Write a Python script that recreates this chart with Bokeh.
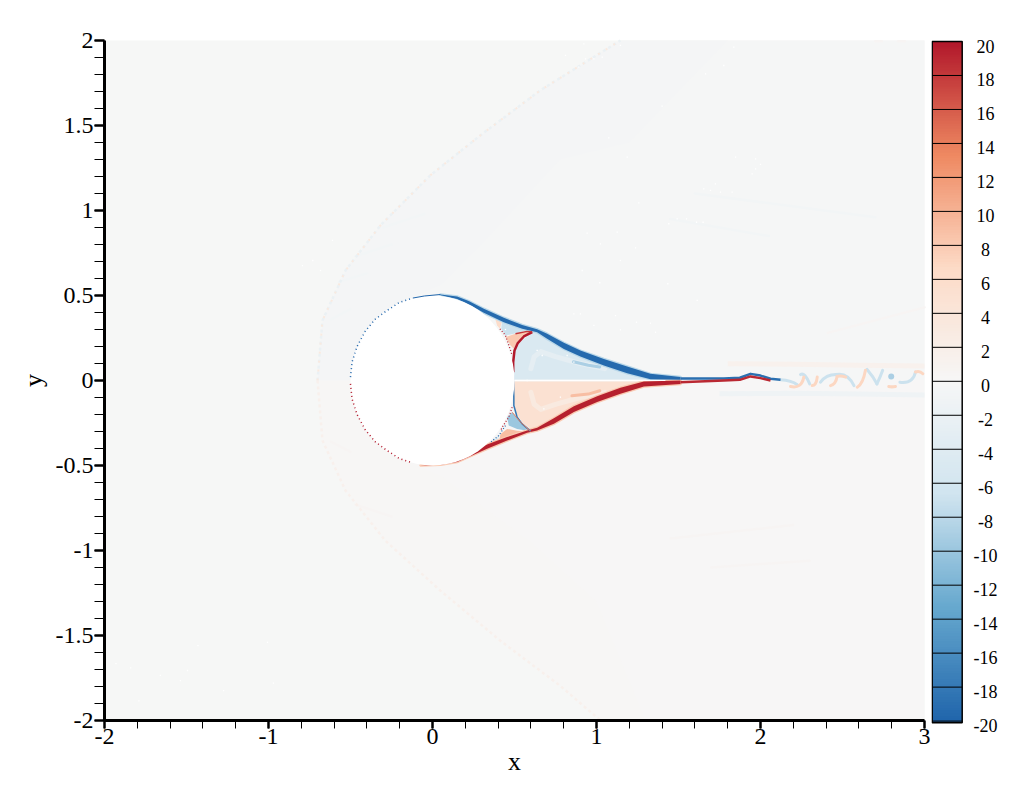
import numpy as np
from bokeh.core.properties import value
from bokeh.embed import file_html
from bokeh.layouts import row
from bokeh.models import LinearColorMapper, SingleIntervalTicker
from bokeh.plotting import figure
from bokeh.resources import INLINE

# ---------- tick labels ----------
x_ticks = [-2, -1, 0, 1, 2, 3]
x_labels = ["-2", "-1", "0", "1", "2", "3"]
y_ticks = [-2, -1.5, -1, -0.5, 0, 0.5, 1, 1.5, 2]
y_labels = ["-2", "-1.5", "-1", "-0.5", "0", "0.5", "1", "1.5", "2"]
level_ticks = list(range(-20, 21, 2))
level_labels = [str(v) for v in level_ticks]

# ---------- colour scale ----------
palette_levels = [-20, -13.33, -6.67, 0, 6.67, 13.33, 20]
palette_colors = ["#2166ac", "#67a9cf", "#d1e5f0", "#f7f7f7", "#fddbc7", "#ef8a62", "#b2182b"]

# ---------- shock ----------
shock_top_x = [-0.701, -0.671, -0.530, -0.317, -0.012, 0.293, 0.659, 1.146]
shock_top_y = [0, 0.353, 0.648, 0.913, 1.208, 1.443, 1.708, 2.0]
shock_bot_x = [-0.701, -0.671, -0.530, -0.287, 0.049, 0.415, 0.780, 1.024]
shock_bot_y = [0, -0.353, -0.648, -0.943, -1.237, -1.532, -1.797, -2.0]
band_top_x = [1.8, 1.2, 0.78, 0.3, 0.05, -0.2, -0.42, -0.5]
band_top_y = [2.0, 1.4, 1.3, 0.8, 0.56, 0.46, 0.3, 0.0]
band_bot_x = [1.3, 1.0, 0.6, 0.05, -0.2, -0.42, -0.5]
band_bot_y = [-2.0, -1.3, -0.95, -0.56, -0.46, -0.3, 0.0]
streaks_top = [
    ([-0.62, -0.50], [0.36, 0.42]), ([-0.57, -0.40], [0.58, 0.63]),
    ([-0.47, -0.25], [0.73, 0.80]), ([-0.30, -0.05], [0.90, 0.98]),
    ([1.60, 2.70], [1.10, 0.96]), ([1.45, 2.05], [0.95, 0.85]),
]
streaks_bot = [
    ([1.70, 2.30], [-1.10, -1.06]), ([1.45, 2.20], [-0.93, -0.85]),
    ([2.41, 3.0], [0.28, 0.43]), ([2.70, 2.74], [1.995, 1.995]), ([2.84, 2.88], [1.995, 1.995]),
    ([-0.62, -0.50], [-0.36, -0.42]), ([-0.47, -0.25], [-0.73, -0.80]),
]

# ---------- recirculation regions ----------
main_top_x = [0.496, 0.492, 0.500, 0.547, 0.608, 0.638, 0.740, 0.862, 1.004, 1.126, 1.268, 1.390, 1.390]
main_top_y = [0.006, 0.098, 0.187, 0.236, 0.285, 0.295, 0.245, 0.181, 0.122, 0.082, 0.039, 0.016, 0.006]
main_bot_x = [0.496, 0.492, 0.506, 0.547, 0.608, 0.638, 0.740, 0.862, 1.004, 1.126, 1.268, 1.390, 1.390]
main_bot_y = [-0.006, -0.098, -0.187, -0.245, -0.295, -0.295, -0.245, -0.177, -0.118, -0.069, -0.029, -0.010, -0.006]
pocket_a_x = [0.425, 0.486, 0.598, 0.557, 0.496, 0.445, 0.419]
pocket_a_y = [0.353, 0.334, 0.295, 0.291, 0.275, 0.265, 0.304]
pocket_b_x = [0.445, 0.506, 0.577, 0.608, 0.557, 0.516, 0.496, 0.476]
pocket_b_y = [0.255, 0.275, 0.289, 0.285, 0.259, 0.226, 0.187, 0.206]
pocket_c_x = [0.384, 0.425, 0.411, 0.394]
pocket_c_y = [0.357, 0.353, 0.304, 0.324]
pocket_d_x = [0.455, 0.486, 0.537, 0.598, 0.516, 0.465]
pocket_d_y = [-0.216, -0.187, -0.245, -0.298, -0.285, -0.265]
pocket_e_x = [0.415, 0.455, 0.516, 0.577, 0.476, 0.404]
pocket_e_y = [-0.314, -0.285, -0.295, -0.300, -0.334, -0.363]
pocket_f_x = [0.374, 0.404, 0.404, 0.354]
pocket_f_y = [-0.344, -0.324, -0.363, -0.363]

# ---------- shear layers as outlines ----------
shear_top_x = [0.049, 0.150, 0.221, 0.313, 0.435, 0.547, 0.638, 0.699, 0.801, 0.902, 1.045, 1.187, 1.329, 1.512,
               1.512, 1.329, 1.187, 1.045, 0.902, 0.801, 0.699, 0.638, 0.547, 0.435, 0.313, 0.221, 0.150, 0.049]
shear_top_y = [0.506, 0.494, 0.467, 0.422, 0.369, 0.327, 0.302, 0.275, 0.222, 0.176, 0.127, 0.082, 0.039, 0.020,
               0.004, 0.008, 0.043, 0.088, 0.141, 0.186, 0.245, 0.284, 0.304, 0.343, 0.398, 0.447, 0.480, 0.502]
shear_bot_x = [-0.073, 0.049, 0.150, 0.231, 0.333, 0.455, 0.577, 0.638, 0.740, 0.862, 1.004, 1.146, 1.289, 1.512,
               1.512, 1.289, 1.146, 1.004, 0.862, 0.740, 0.638, 0.577, 0.455, 0.333, 0.231, 0.150, 0.049]
shear_bot_y = [-0.500, -0.496, -0.480, -0.445, -0.402, -0.353, -0.308, -0.294, -0.255, -0.186, -0.127, -0.078, -0.035, -0.020,
               0.0, -0.006, -0.043, -0.092, -0.151, -0.222, -0.278, -0.294, -0.333, -0.376, -0.422, -0.461, -0.490]

# ---------- separation lines ----------
red_edge_x = [0.608, 0.557, 0.520, 0.500, 0.492, 0.492]
red_edge_y = [0.285, 0.259, 0.220, 0.177, 0.108, 0.049]
red_cap_x = [0.506, 0.577, 0.608]
red_cap_y = [0.275, 0.289, 0.285]
blue_edge_x = [0.492, 0.496, 0.496, 0.516, 0.547, 0.598]
blue_edge_y = [0.049, -0.098, -0.147, -0.216, -0.255, -0.298]
red_lip_x = [0.486, 0.537, 0.598]
red_lip_y = [-0.187, -0.245, -0.298]

# ---------- inner bands ----------
swirl_top_x = [0.60, 0.62, 0.66, 0.75, 0.90, 1.05]
swirl_top_y = [0.07, 0.14, 0.17, 0.14, 0.10, 0.07]
swirl_bot_x = [0.60, 0.62, 0.66, 0.75, 0.90, 1.05]
swirl_bot_y = [-0.07, -0.14, -0.17, -0.14, -0.10, -0.07]
dark_top_x = [0.86, 0.95, 1.02]
dark_top_y = [0.11, 0.09, 0.08]
dark_bot_x = [0.85, 0.95, 1.02]
dark_bot_y = [-0.09, -0.08, -0.06]
divide_x = [0.50, 1.42]
divide_y = [0.0, 0.0]

# ---------- wake ----------
wake_core_blue_x = [1.512, 1.776, 1.874, 1.939, 2.0, 2.061, 2.122]
wake_core_blue_y = [0.012, 0.012, 0.016, 0.039, 0.029, 0.010, 0.004]
wake_core_red_x = [1.512, 1.776, 1.874, 1.939, 2.0, 2.061]
wake_core_red_y = [-0.010, 0.0, 0.004, 0.024, 0.014, 0.0]
wake_hi_x = [1.80, 2.2, 2.6, 3.0]
wake_hi_y = [0.098, 0.095, 0.09, 0.085]
wake_lo_x = [1.75, 2.2, 2.6, 3.0]
wake_lo_y = [-0.078, -0.075, -0.08, -0.085]
# wiggles: start, end and control points
blue_x0 = [2.122, 2.244, 2.366, 2.46, 2.65, 2.71, 2.85]
blue_y0 = [0.004, 0.035, -0.01, 0.035, 0.065, -0.02, -0.01]
blue_x1 = [2.224, 2.30, 2.46, 2.57, 2.71, 2.745, 2.945]
blue_y1 = [-0.025, -0.02, 0.035, -0.03, -0.02, 0.06, 0.05]
blue_cx = [2.19, 2.27, 2.40, 2.53, 2.69, 2.73, 2.93]
blue_cy = [0.0, 0.05, 0.035, 0.05, 0.02, 0.02, -0.02]
red_x0 = [2.183, 2.315, 2.427, 2.467, 2.59, 2.782, 2.945]
red_y0 = [-0.035, -0.03, -0.03, 0.024, -0.04, -0.035, 0.05]
red_x1 = [2.264, 2.346, 2.467, 2.52, 2.64, 2.823, 2.99]
red_y1 = [0.02, 0.02, 0.024, 0.02, 0.06, -0.035, 0.04]
red_cx = [2.25, 2.34, 2.46, 2.49, 2.625, 2.80, 2.97]
red_cy = [-0.05, -0.03, -0.02, 0.03, -0.02, -0.04, 0.06]
blob_x = [2.797]
blob_y = [0.024]

# ---------- dots on the cylinder surface ----------
dots_blue_x = [-0.50, -0.49, -0.46, -0.41, -0.35, -0.28, -0.20, -0.12]
dots_blue_y = [0.02, 0.11, 0.20, 0.29, 0.36, 0.41, 0.46, 0.485]
solid_blue_x = [-0.12, -0.05, 0.049]
solid_blue_y = [0.485, 0.497, 0.506]
dots_red_x = [-0.50, -0.49, -0.46, -0.41, -0.35, -0.28, -0.20, -0.12]
dots_red_y = [-0.02, -0.11, -0.20, -0.29, -0.36, -0.41, -0.46, -0.485]
dots_edge_red_x = [0.411, 0.445, 0.476, 0.486]
dots_edge_red_y = [0.304, 0.265, 0.177, 0.147]
dots_edge_red2_x = [0.486, 0.465, 0.425, 0.415]
dots_edge_red2_y = [-0.157, -0.216, -0.275, -0.295]
dots_edge_blue2_x = [0.445, 0.404, 0.354]
dots_edge_blue2_y = [-0.265, -0.324, -0.363]

# ---------- white specks ----------
speck_x = [1.492, 1.549, 1.610, 1.650, 1.441, 1.654, 1.695, 1.756, 1.827, 1.725, 1.970, 2.0, 1.970, 1.949, 1.848,
           0.811, 0.933, 0.984, 1.035, 0.923, 0.892, 1.146, 1.837, 1.776, 1.665, 1.400, 1.075, 1.187, 1.258, 0.943,
           1.126, 1.024, 1.238, 1.146, 0.913, 1.020, 1.435, 1.614, 0.862, 0.902, 0.984, 1.116, 1.244, 1.329, 1.146, 1.360,
           -1.79, -1.659, -1.494, -1.274, -0.97, -1.84, -1.93, -1.43, -1.006, -1.537,
           -0.73, -0.61, -0.683, -0.793, 0.638, 0.669, 0.821, 0.862, 0.577, 0.78, 0.679, 0.445]
speck_y = [0.951, 0.951, 0.931, 0.931, 0.922, 1.127, 1.118, 1.108, 1.108, 1.157, 1.304, 1.271, 1.245, 1.216, 1.314,
           1.912, 1.892, 1.892, 1.902, 1.98, 1.843, 1.971, 1.961, 1.853, 1.804, 1.614, 1.427, 1.314, 1.045, 0.867,
           0.873, 0.804, 0.780, 0.706, 0.647, 0.575, 0.569, 0.471, 0.392, 0.392, 0.324, 0.382, 0.343, 0.337, 0.298, 0.284,
           -1.885, -1.735, -1.706, -1.824, -1.78, -1.69, -1.665, -1.559, -1.54, -1.765,
           0.706, 0.824, 0.647, 0.676, 0.177, 0.147, 0.147, 0.108, 0.0, -0.098, -0.167, 0.30]

# ---------- colours ----------
grid_levels = np.linspace(-20, 20, 256)
def channel(i):
    return np.interp(grid_levels, palette_levels, [int(c[i:i + 2], 16) for c in palette_colors])
palette = ["#%02x%02x%02x" % (int(r), int(g), int(b)) for r, g, b in zip(channel(1), channel(3), channel(5))]
mapper = LinearColorMapper(palette=palette, low=-20, high=20)
def col(v):
    return palette[min(255, int((v + 20) / 40 * 256))]

SERIF = "Liberation Serif"
TOP_PAD = 12
FRAME_H = 762
BORDER_TOP = 28
BORDER_BOTTOM = 5
LEFT_PAD = 90
RIGHT_PAD = 6
x_scale = 164.0
y_scale = 170.0

p = figure(frame_width=820 + LEFT_PAD + RIGHT_PAD, frame_height=FRAME_H, width=931,
           height=BORDER_TOP + FRAME_H + BORDER_BOTTOM,
           x_range=(-2 - LEFT_PAD / x_scale, 3 + RIGHT_PAD / x_scale),
           y_range=(2 + TOP_PAD / y_scale - FRAME_H / y_scale, 2 + TOP_PAD / y_scale),
           toolbar_location=None, output_backend="svg",
           min_border_left=104 - LEFT_PAD, min_border_right=7 - RIGHT_PAD,
           min_border_top=BORDER_TOP, min_border_bottom=BORDER_BOTTOM)
p.background_fill_color = "#ffffff"
p.grid.visible = False
p.outline_line_color = None

# field
p.quad(left=[-2], right=[3], bottom=[-2], top=[2], fill_color="#f6f7f6", line_color=None)
p.patch(shock_top_x + [3, 3], shock_top_y + [2, 0], fill_color=col(-0.2), line_color=None)
p.patch(shock_bot_x + [3, 3], shock_bot_y + [-2, 0], fill_color=col(0.15), line_color=None)
p.patch(shock_top_x + band_top_x, shock_top_y + band_top_y, fill_color=col(-0.4), line_color=None)
p.patch(shock_bot_x + band_bot_x, shock_bot_y + band_bot_y, fill_color=col(0.25), line_color=None)
for xs, ys in streaks_top:
    p.line(xs, ys, line_color=col(-0.7), line_width=2.5, line_cap="round")
for xs, ys in streaks_bot:
    p.line(xs, ys, line_color=col(0.6), line_width=2.5, line_cap="round")
p.line(shock_top_x, shock_top_y, line_color=col(-2), line_width=2.5, line_dash="3 3")
p.line(shock_top_x, shock_top_y, line_color=col(3), line_width=2, line_dash="2 7")
p.line(shock_bot_x, shock_bot_y, line_color=col(1.5), line_width=2.5, line_dash="3 3")

# wake edges
p.line(wake_hi_x, wake_hi_y, line_color=col(1.3), line_width=5)
p.line(wake_lo_x, wake_lo_y, line_color=col(-1.3), line_width=5)

# regions
for xs, ys, v in [(main_top_x, main_top_y, -5), (main_bot_x, main_bot_y, 5),
                  (pocket_a_x, pocket_a_y, -7), (pocket_b_x, pocket_b_y, 8),
                  (pocket_c_x, pocket_c_y, 6), (pocket_d_x, pocket_d_y, -10),
                  (pocket_e_x, pocket_e_y, 9), (pocket_f_x, pocket_f_y, -4)]:
    p.patch(xs, ys, fill_color=col(v), line_color=None)

# inner bands
p.line(swirl_top_x, swirl_top_y, line_color=col(-3), line_width=5, line_cap="round", line_join="round")
p.line(swirl_bot_x, swirl_bot_y, line_color=col(3), line_width=5, line_cap="round", line_join="round")
p.line(dark_top_x, dark_top_y, line_color=col(-9), line_width=3, line_cap="round")
p.line(dark_bot_x, dark_bot_y, line_color=col(9), line_width=3, line_cap="round")

# wake wiggles
p.quadratic(blue_x0, blue_y0, blue_x1, blue_y1, blue_cx, blue_cy, line_color=col(-7), line_width=3, line_cap="round")
p.quadratic(red_x0, red_y0, red_x1, red_y1, red_cx, red_cy, line_color=col(7), line_width=3, line_cap="round")
p.scatter(blob_x, blob_y, size=6, fill_color=col(-9), line_color=None)

# shear layers
p.patch(shear_top_x, shear_top_y, fill_color=col(-19.5), line_color=col(-8), line_width=2.5, line_join="round")
p.patch(shear_bot_x, shear_bot_y, fill_color=col(19.5), line_color=col(8), line_width=2.5, line_join="round")
p.patch(shear_top_x, shear_top_y, fill_color=col(-19.5), line_color=None)
p.patch(shear_bot_x, shear_bot_y, fill_color=col(19.5), line_color=None)
p.line(wake_core_blue_x, wake_core_blue_y, line_color=col(-19), line_width=2.5, line_join="round")
p.line(wake_core_red_x, wake_core_red_y, line_color=col(19), line_width=2.5, line_join="round")

p.line(red_edge_x, red_edge_y, line_color=col(20), line_width=2.5, line_join="round")
p.line(red_cap_x, red_cap_y, line_color=col(18), line_width=1.5)
p.line(blue_edge_x, blue_edge_y, line_color=col(-18), line_width=1.5, line_join="round")
p.line(red_lip_x, red_lip_y, line_color=col(14), line_width=1)
p.line(divide_x, divide_y, line_color="#ffffff", line_width=1)

# cylinder
p.ellipse(x=[0], y=[0], width=[1.0], height=[1.0], fill_color="#ffffff", line_color=None)
p.line(dots_blue_x, dots_blue_y, line_color=col(-20), line_width=1.5, line_dash="1 3")
p.line(solid_blue_x, solid_blue_y, line_color=col(-20), line_width=1)
p.line(dots_red_x, dots_red_y, line_color=col(20), line_width=1.5, line_dash="1 3")
p.line(dots_edge_red_x, dots_edge_red_y, line_color=col(20), line_width=1.2, line_dash="1 2")
p.line(dots_edge_red2_x, dots_edge_red2_y, line_color=col(20), line_width=1.2, line_dash="1 2")
p.line(dots_edge_blue2_x, dots_edge_blue2_y, line_color=col(-20), line_width=1.2, line_dash="1 2")
p.scatter(speck_x, speck_y, marker="square", size=1.3, fill_color="#ffffff", line_color=None)

# axes
for ax, ticks, labels, interval, name, tick_out, bounds in [
        (p.xaxis[0], x_ticks, x_labels, 1, "x", 8, (-2, 3)),
        (p.yaxis[0], y_ticks, y_labels, 0.5, "y", 10, (-2, 2))]:
    ax.ticker = SingleIntervalTicker(interval=interval, num_minor_ticks=5)
    ax.bounds = bounds
    ax.major_label_overrides = dict(zip(ticks, labels))
    ax.axis_label = name
    ax.axis_line_color = "#000000"
    ax.axis_line_width = 3
    ax.major_tick_line_width = 2.5
    ax.major_tick_line_color = "#000000"
    ax.minor_tick_line_width = 1
    ax.minor_tick_line_color = "#000000"
    ax.major_tick_in = 0
    ax.major_tick_out = tick_out
    ax.minor_tick_in = 0
    ax.minor_tick_out = tick_out
    ax.major_label_text_font = SERIF
    ax.major_label_text_font_size = "24px"
    ax.major_label_text_color = "#000000"
    ax.axis_label_text_font = SERIF
    ax.axis_label_text_font_size = "26px"
    ax.axis_label_text_font_style = "normal"
    ax.axis_label_text_color = "#000000"
p.xaxis[0].fixed_location = -2
p.yaxis[0].fixed_location = -2
p.xaxis[0].major_label_standoff = 0
p.yaxis[0].major_label_standoff = 1
p.xaxis[0].axis_label_standoff = 0
p.yaxis[0].axis_label_standoff = 5

# colour bar
px_per_level = 16.99
cb_top = 20 + (TOP_PAD + 1) / px_per_level
cb = figure(frame_width=92, frame_height=FRAME_H, width=92, height=BORDER_TOP + FRAME_H + BORDER_BOTTOM,
            x_range=(0, 92), y_range=(cb_top - FRAME_H / px_per_level, cb_top),
            toolbar_location=None, output_backend="svg",
            min_border_left=0, min_border_right=0, min_border_top=BORDER_TOP, min_border_bottom=BORDER_BOTTOM)
cb.axis.visible = False
cb.grid.visible = False
cb.outline_line_color = None
cb_bottom = -20 - 1.6 / px_per_level
cb.quad(left=[0.7], right=[30.7], bottom=[cb_bottom], top=[-20], fill_color=palette[0], line_color=None)
cb.image(image=[grid_levels.reshape(-1, 1)], x=0.7, y=-20, dw=30, dh=40, color_mapper=mapper)
cb.segment(x0=[0.7] * len(level_ticks), x1=[30.7] * len(level_ticks), y0=level_ticks, y1=level_ticks,
           line_color="#000000", line_width=1)
cb.quad(left=[0.7], right=[30.7], bottom=[cb_bottom], top=[20], fill_color=None, line_color="#000000", line_width=1.5)
cb.text(x=[54] * len(level_ticks), y=level_ticks, text=level_labels, text_align="center",
        text_baseline="middle", y_offset=4.5, text_font=value(SERIF), text_font_size="18px", text_color="#000000")

open("out.html", "w").write(file_html(row(p, cb), INLINE))
